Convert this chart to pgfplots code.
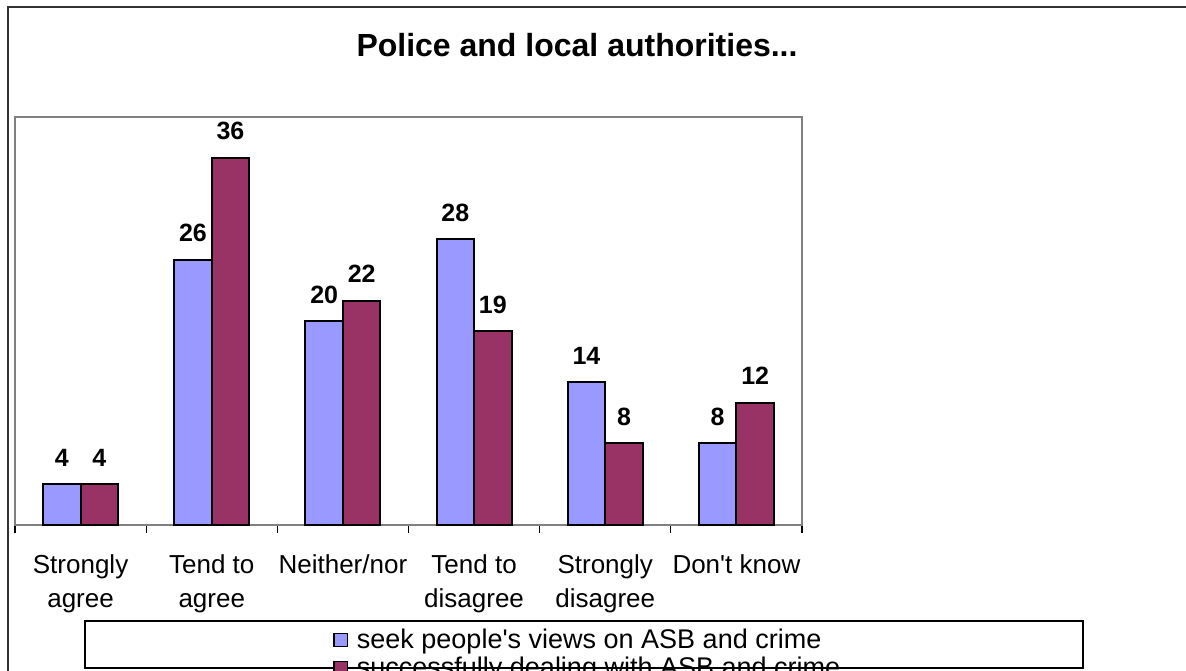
\documentclass[border=0pt]{standalone}
\usepackage{pgfplots}
\pgfplotsset{compat=1.18}
\usepackage{fontspec}
\setmainfont{Liberation Sans}
\definecolor{sblue}{HTML}{9999FF}
\definecolor{sred}{HTML}{993366}
\begin{document}
\begin{tikzpicture}
\useasboundingbox (0,0) rectangle (593pt,-335pt);
\draw[line width=1pt, black!80] (4pt,-340pt) -- (4pt,-3.5pt) -- (600pt,-3.5pt);
\node[anchor=base, font=\fontsize{16}{18}\selectfont\bfseries] at (288.5pt,-28.4pt) {Police and local authorities...};
\draw[line width=0.6pt, black] (42.5pt,-310.5pt) rectangle (541.5pt,-334pt);
\begin{axis}[
  at={(7.5pt,-262.5pt)}, anchor=south west,
  scale only axis, width=393.5pt, height=204pt,
  ymin=0, ymax=40, xmin=-0.5, xmax=5.5,
  ybar, bar width=18.75pt,
  axis line style={draw=black!50, line width=1pt},
  ytick=\empty,
  xtick={0,...,5},
  xticklabels={{Strongly\\agree},{Tend to\\agree},{Neither/nor},{Tend to\\disagree},{Strongly\\disagree},{Don\textquotesingle t know}},
  xticklabel style={align=center, font=\fontsize{13}{17}\selectfont, yshift=-11.5pt},
  major tick length=0pt,
  minor xtick={-0.5,0.5,...,5.5},
  minor tick length=4pt,
  tick align=outside, tick pos=bottom,
  minor tick style={black, line width=0.6pt},
  /pgf/number format/assume math mode=true,
  nodes near coords,
  every node near coord/.append style={font=\fontsize{12.5}{14}\selectfont\bfseries, yshift=5pt},
  legend style={draw=none, fill=none, at={(0.404,-0.243)}, anchor=north west,
    font=\fontsize{13.5}{14}\selectfont, row sep=-1pt, inner sep=0pt},
  legend cell align=left,
  legend image code/.code={\draw[#1, line width=0.6pt] (0pt,-3.3pt) rectangle (6.6pt,3.3pt); \path (9pt,0pt);},
  clip=false,
]
\addplot[fill=sblue, draw=black, line width=1pt, bar shift=-9.375pt] coordinates {(0,4) (1,26) (2,20) (3,28) (4,14) (5,8)};
\addplot[fill=sred, draw=black, line width=1pt, bar shift=9.375pt] coordinates {(0,4) (1,36) (2,22) (3,19) (4,8) (5,12)};
\legend{seek people\textquotesingle s views on ASB and crime, successfully dealing with ASB and crime}
\end{axis}
\end{tikzpicture}
\end{document}
